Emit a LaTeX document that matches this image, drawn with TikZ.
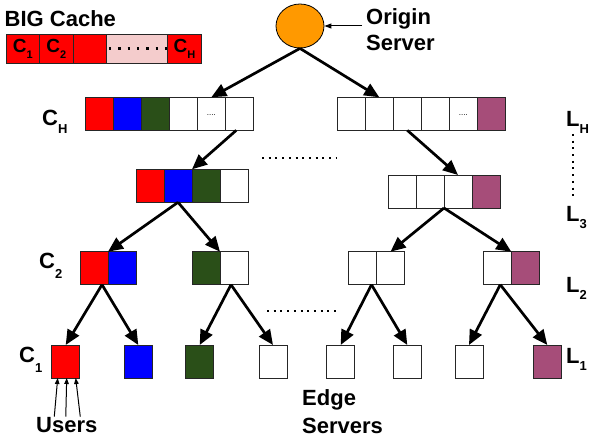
\documentclass[tikz,border=0pt]{standalone}
\usepackage{fontspec}
\setmainfont{Liberation Sans}
\usetikzlibrary{arrows.meta,shapes.geometric,calc}
\definecolor{cred}{RGB}{255,0,0}
\definecolor{cblue}{RGB}{0,0,255}
\definecolor{cgreen}{RGB}{42,79,24}
\definecolor{cpurple}{RGB}{166,77,121}
\definecolor{cpink}{RGB}{244,204,204}
\definecolor{corange}{RGB}{255,153,0}
\newcommand{\lsub}[2][9]{\raisebox{-#1pt}{\fontsize{13}{13}\selectfont #2}}
\newcommand{\csub}[1]{\raisebox{-6pt}{\fontsize{11}{11}\selectfont #1}}
\newcommand{\celldots}{\raisebox{-3pt}{\fontsize{8}{8}\selectfont ....}}
\begin{document}
\begin{tikzpicture}[x=1pt,y=-1pt,
  cell/.style={draw=black!85, line width=0.8pt, minimum width=28pt, minimum height=33pt, inner sep=0pt, outer sep=0pt, anchor=north west},
  cc/.style={draw=black!85, line width=0.8pt, minimum height=29pt, inner sep=0pt, outer sep=0pt, anchor=north west, fill=cred, font=\fontsize{19}{19}\selectfont\bfseries},
  arr/.style={line width=2.7pt, -{Triangle[length=15pt,width=13pt]}},
  thinarr/.style={line width=1pt, -{Triangle[length=7pt,width=5pt]}},
  uarr/.style={line width=1pt, -{Triangle[length=6pt,width=4.5pt]}},
  lbl/.style={font=\fontsize{22}{26}\selectfont\bfseries, inner sep=0pt},
  dotline/.style={line width=2pt, dash pattern=on 2pt off 4.7pt},
  cachedots/.style={line width=2.4pt, dash pattern=on 2.4pt off 6.9pt}
]
\useasboundingbox (0,0) rectangle (592,441);

% origin
\node[ellipse, draw, line width=0.8pt, fill=corange, minimum width=48pt, minimum height=44pt, inner sep=0pt] (origin) at (300,26) {};
\node[lbl, align=left, anchor=north west] (osrv) at (366,8) {Origin\\Server};
\draw[thinarr] ($(osrv.west |- origin.east)+(-4,0)$) -- (origin.east);

% BIG cache
\node[lbl, anchor=base west] (bigc) at (4.5,27) {BIG Cache};
\node[cc, minimum width=33.5pt] (bc1) at (6,34) {C\csub{1}};
\node[cc, minimum width=33.5pt] (bc2) at (39.5,34) {C\csub{2}};
\node[cc, minimum width=33pt] (bc3) at (73,34) {};
\node[cc, minimum width=61.3pt, fill=cpink] (bc4) at (106,34) {};
\node[cc, minimum width=34.2pt] (bc5) at (167.3,34) {C\csub{H}};
\draw[cachedots] ([xshift=3pt]bc4.west) -- (bc4.east);

% level H
\node[cell,fill=cred] (hL1) at (85.3,97.3) {};
\node[cell,fill=cblue] (hL2) at (113.3,97.3) {};
\node[cell,fill=cgreen] (hL3) at (141.3,97.3) {};
\node[cell] (hL4) at (169.3,97.3) {};
\node[cell] (hL5) at (197.3,97.3) {\celldots};
\node[cell] (hL6) at (225.3,97.3) {};
\node[cell] (hR1) at (337.3,97.3) {};
\node[cell] (hR2) at (365.3,97.3) {};
\node[cell] (hR3) at (393.3,97.3) {};
\node[cell] (hR4) at (421.3,97.3) {};
\node[cell] (hR5) at (449.3,97.3) {\celldots};
\node[cell,fill=cpurple] (hR6) at (477.3,97.3) {};

% level 3
\node[cell,fill=cred] (l3L1) at (136,169.3) {};
\node[cell,fill=cblue] (l3L2) at (164,169.3) {};
\node[cell,fill=cgreen] (l3L3) at (192,169.3) {};
\node[cell] (l3L4) at (220,169.3) {};
\node[cell] (r3R1) at (388,175) {};
\node[cell] (r3R2) at (416,175) {};
\node[cell] (r3R3) at (444,175) {};
\node[cell,fill=cpurple] (r3R4) at (472,175) {};

% level 2
\node[cell,fill=cred] (a2a) at (80,251.7) {};
\node[cell,fill=cblue] (a2b) at (108,251.7) {};
\node[cell,fill=cgreen] (b2a) at (192,251.7) {};
\node[cell] (b2b) at (220,251.7) {};
\node[cell] (c2a) at (348.5,251.7) {};
\node[cell] (c2b) at (376.5,251.7) {};
\node[cell] (d2a) at (483.3,251.7) {};
\node[cell,fill=cpurple] (d2b) at (511.3,251.7) {};

% level 1
\node[cell,fill=cred] (e1) at (51.7,345) {};
\node[cell,fill=cblue] (f1) at (124.3,345) {};
\node[cell,fill=cgreen] (g1) at (185.7,345) {};
\node[cell] (h1) at (259,345) {};
\node[cell] (i1) at (326.7,345) {};
\node[cell] (j1) at (393.3,345) {};
\node[cell] (k1) at (455,345) {};
\node[cell,fill=cpurple] (m1) at (533.3,345) {};

% arrows
\draw[arr] (origin.south) -- (hL5.north);
\draw[arr] (origin.south) -- (hR2.north);
\draw[arr] ([xshift=-3pt]hL6.south) -- (l3L2.north east);
\draw[arr] (hR3.south) -- (r3R3.north);
\draw[arr] (l3L2.south) -- (a2a.north east);
\draw[arr] (l3L2.south) -- (b2a.north east);
\draw[arr] (r3R2.south east) -- (c2b.north);
\draw[arr] (r3R2.south east) -- (d2a.north east);
\draw[arr] ([xshift=-6pt]a2a.south east) -- (e1.north);
\draw[arr] ([xshift=-6pt]a2a.south east) -- (f1.north);
\draw[arr] ([xshift=-3pt]b2b.south) -- (g1.north);
\draw[arr] ([xshift=-3pt]b2b.south) -- (h1.north);
\draw[arr] ([xshift=-5pt]c2a.south east) -- (i1.north);
\draw[arr] ([xshift=-5pt]c2a.south east) -- (j1.north);
\draw[arr] ([xshift=3pt]d2a.south) -- (k1.north);
\draw[arr] ([xshift=3pt]d2a.south) -- (m1.north);

% side labels
\node[lbl, anchor=base west] (cH) at (42,125.7) {C\lsub[8]{H}};
\node[lbl, anchor=base west] (c2l) at (39,268) {C\lsub[10]{2}};
\node[lbl, anchor=base west] (c1l) at (19,362) {C\lsub[10]{1}};
\node[lbl, anchor=base west] (lH) at (566,127) {L\lsub[7]{H}};
\node[lbl, anchor=base west] (lthree) at (566,221) {L\lsub[7]{3}};
\node[lbl, anchor=base west] (ltwo) at (566,292) {L\lsub[7]{2}};
\node[lbl, anchor=base west] (lone) at (566,363) {L\lsub[7]{1}};

% dotted fillers
\coordinate (dv1) at (572.7,134);
\coordinate (dv2) at (572.7,200);
\draw[dotline] (dv1) -- (dv2);
\coordinate (dh1) at (262,158);
\coordinate (dh2) at (336,158);
\draw[dotline] (dh1) -- (dh2);
\coordinate (dh3) at (267,311);
\coordinate (dh4) at (340,311);
\draw[dotline] (dh3) -- (dh4);

% users
\node[lbl, anchor=base west] (users) at (36,432) {Users};
\draw[uarr] ([xshift=-12.5pt]users.north) -- ([xshift=-8pt]e1.south);
\draw[uarr] ([xshift=-1pt]users.north) -- ([xshift=1pt]e1.south);
\draw[uarr] ([xshift=13.5pt]users.north) -- ([xshift=10pt]e1.south);

% edge servers
\node[lbl, align=left, anchor=north west, font=\fontsize{22}{28}\selectfont\bfseries] (edge) at (302,389) {Edge\\Servers};
\end{tikzpicture}
\end{document}
